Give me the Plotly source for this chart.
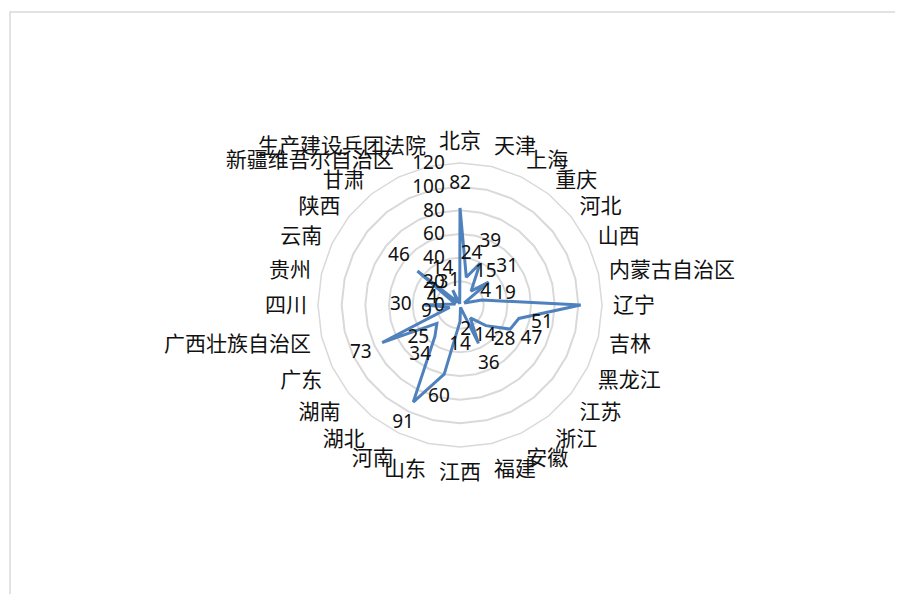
import plotly.graph_objects as go

categories = ["北京", "天津", "上海", "重庆", "河北", "山西", "内蒙古自治区", "辽宁", "吉林",
              "黑龙江", "江苏", "浙江", "安徽", "福建", "江西", "山东", "河南", "湖北", "湖南",
              "广东", "广西壮族自治区", "四川", "贵州", "云南", "陕西", "甘肃",
              "新疆维吾尔自治区", "生产建设兵团法院"]
values = [82, 24, 39, 15, 31, 4, 19, 102, 51, 47, 28, 14, 36, 2, 14, 60, 91, 34, 25,
          73, 9, 30, 4, 7, 46, 3, 14, 1]
radial_ticks = [0, 20, 40, 60, 80, 100, 120]

# page body has an 8px margin
W, H = 895, 586
cx, cy, R = 452, 297, 142
label_offset = 20

fig = go.Figure()
fig.add_trace(go.Scatterpolar(
    r=values + values[:1], theta=categories + categories[:1],
    mode="lines", line=dict(color="#4F81BD", width=3),
    hoverinfo="skip", showlegend=False, cliponaxis=False))
fig.add_trace(go.Scatterpolar(
    r=[v + label_offset for v in values], theta=categories,
    mode="text", text=[str(v) for v in values],
    textfont=dict(size=19, color="#111111", family="Noto Sans, Noto Sans CJK SC"),
    textposition="middle center", showlegend=False, cliponaxis=False))

fig.update_layout(
    width=W, height=H,
    margin=dict(l=0, r=0, t=0, b=0),
    paper_bgcolor="white", plot_bgcolor="white",
    polar=dict(
        domain=dict(x=[(cx - R) / W, (cx + R) / W],
                    y=[(H - cy - R) / H, (H - cy + R) / H]),
        bgcolor="white",
        gridshape="linear",
        radialaxis=dict(range=[0, 120], tickvals=radial_ticks, angle=90,
                        side="counterclockwise", tickangle=90,
                        showline=False, ticks="outside", ticklen=8,
                        tickcolor="rgba(0,0,0,0)",
                        gridcolor="#D9D9D9", gridwidth=1.5,
                        tickfont=dict(size=19, color="#111111",
                                      family="Noto Sans, Noto Sans CJK SC")),
        angularaxis=dict(direction="clockwise", rotation=90, showgrid=False,
                         showline=True, linecolor="#D9D9D9", linewidth=1.5,
                         ticks="outside", ticklen=6, tickcolor="rgba(0,0,0,0)",
                         tickfont=dict(size=21, color="#111111",
                                       family="Noto Sans CJK SC")),
    ),
    shapes=[dict(type="rect", xref="paper", yref="paper",
                 x0=2 / W, x1=1.01, y0=-0.01, y1=(H - 4) / H,
                 line=dict(color="#D9D9D9", width=1.5))],
)
fig.write_html("out.html")
